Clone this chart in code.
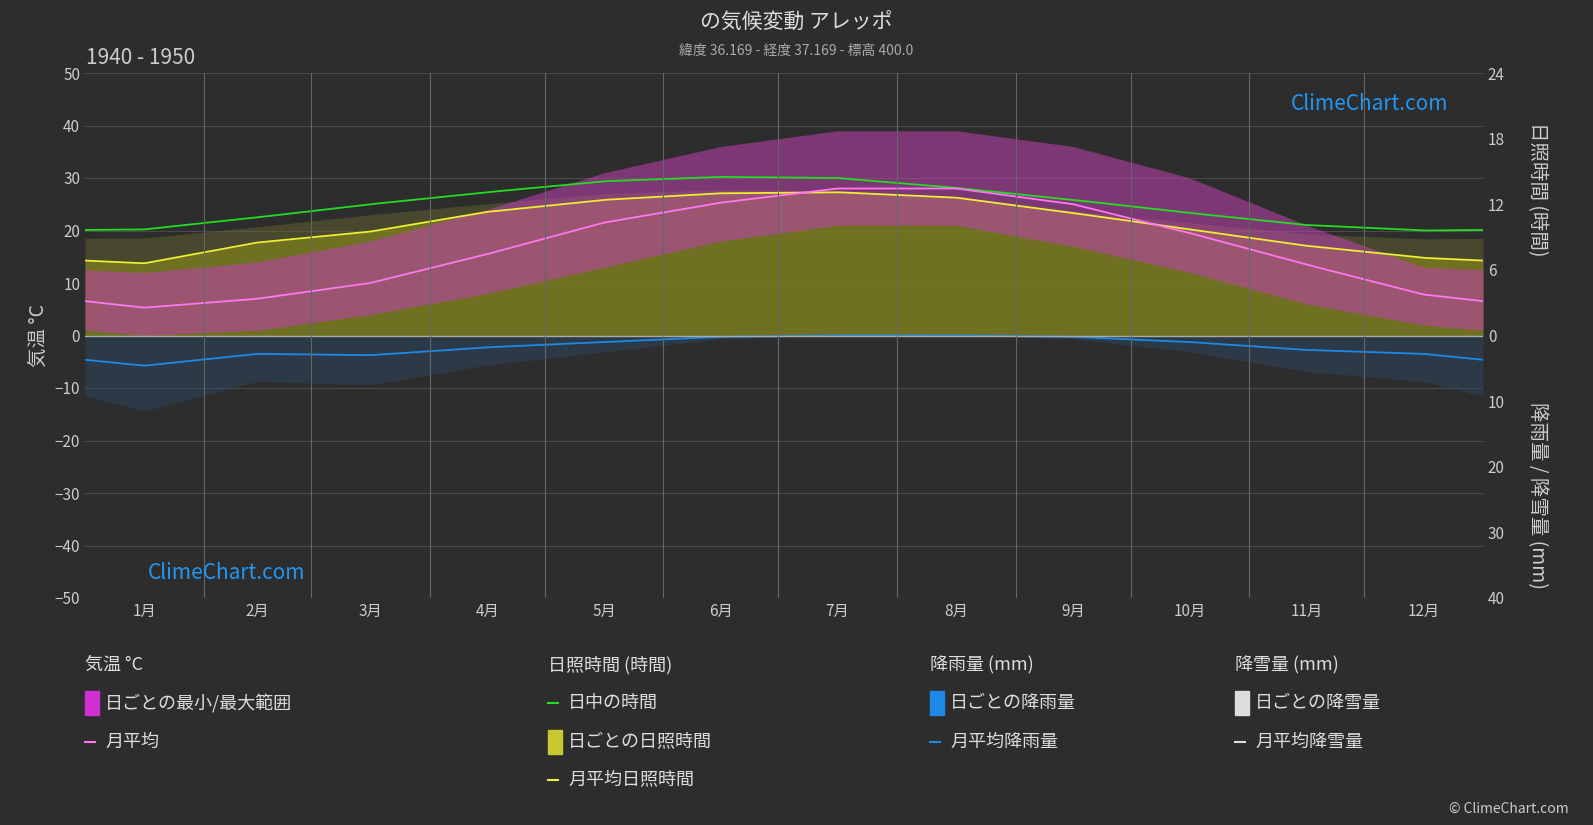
import numpy as np, pandas as pd, seaborn as sns, matplotlib
matplotlib.use("Agg")
import matplotlib.pyplot as plt
from matplotlib.patches import Rectangle

plt.rcParams["font.family"] = ["Noto Sans CJK JP", "DejaVu Sans"]

months = ["1月","2月","3月","4月","5月","6月","7月","8月","9月","10月","11月","12月"]
temp_mean = [5.3, 7.0, 10.0, 15.5, 21.5, 25.3, 28.0, 28.0, 25.0, 19.5, 13.5, 7.8]
temp_min = [0, 1, 4, 8, 13, 18, 21, 21, 17, 12, 6, 2]
temp_max = [12, 14, 18, 24, 31, 36, 39, 39, 36, 30, 21, 13]
daylight_h = [9.7, 10.8, 12.0, 13.1, 14.1, 14.5, 14.4, 13.5, 12.4, 11.2, 10.1, 9.6]
sunshine_h = [6.6, 8.5, 9.5, 11.3, 12.4, 13.0, 13.1, 12.6, 11.2, 9.7, 8.2, 7.1]
rain_mm = [4.6, 2.8, 3.0, 1.8, 1.0, 0.2, 0.0, 0.0, 0.2, 1.0, 2.2, 2.8]
snow_mm = [0.0]*12

BG = "#2d2d2d"
days_in = np.array([31,28,31,30,31,30,31,31,30,31,30,31])
edges = np.concatenate([[0], np.cumsum(days_in)])
mids = (edges[:-1] + edges[1:]) / 2

H2T = 50/24
MM2T = -50/40

df = pd.DataFrame({"day": mids, "temp": temp_mean,
                   "daylight": np.array(daylight_h)*H2T,
                   "sun": np.array(sunshine_h)*H2T,
                   "rain": np.array(rain_mm)*MM2T,
                   "tmin": temp_min, "tmax": temp_max})
xs = np.arange(0, 366)
def interp(col):
    x = np.concatenate([[mids[-1]-365], mids, [mids[0]+365]])
    y = np.concatenate([[df[col].iloc[-1]], df[col], [df[col].iloc[0]]])
    return np.interp(xs, x, y)

fig = plt.figure(figsize=(15.93, 8.25), dpi=100, facecolor=BG)
ax = fig.add_axes([85/1593, 1-598/825, 1398/1593, 525/825], facecolor=BG)

ax.fill_between(xs, 0, interp("sun"), color="#7d7d22", alpha=0.85, lw=0)
ax.fill_between(xs, interp("sun"), interp("daylight")*0.92, color="#6a6a30", alpha=0.45, lw=0)
ax.fill_between(xs, interp("tmin"), interp("tmax"), color="#c040b0", alpha=0.55, lw=0)
ax.fill_between(xs, interp("rain")*2.5, 0, color="#2a4a66", alpha=0.45, lw=0)

sns.lineplot(x=xs, y=interp("daylight"), ax=ax, color="#22dd22", lw=1.3)
sns.lineplot(x=xs, y=interp("sun"), ax=ax, color="#eeee33", lw=1.3)
sns.lineplot(x=xs, y=interp("temp"), ax=ax, color="#ff77ee", lw=1.3)
sns.lineplot(x=xs, y=interp("rain"), ax=ax, color="#1e88e5", lw=1.3)
ax.axhline(0, color="#aaaaaa", lw=1)

ax.set_xlim(0, 365); ax.set_ylim(-50, 50)
ax.set_yticks(range(-50, 51, 10))
ax.set_xticks(mids); ax.set_xticklabels(months)
for e in edges[1:-1]:
    ax.axvline(e, color="#666666", lw=0.8)
for y in range(-50, 51, 10):
    ax.axhline(y, color="#4a4a4a", lw=0.8, zorder=0)
for s in ax.spines.values(): s.set_visible(False)
ax.tick_params(colors="#cccccc", labelsize=11, length=0)
ax.set_ylabel("気温 °C", color="#cccccc", fontsize=14)

ax2 = ax.twinx()
ax2.set_ylim(-50, 50)
ax2.set_yticks([0, 12.5, 25, 37.5, 50, -12.5, -25, -37.5, -50])
ax2.set_yticklabels(["0","6","12","18","24","10","20","30","40"])
ax2.tick_params(colors="#cccccc", labelsize=11, length=0)
for s in ax2.spines.values(): s.set_visible(False)
fig.text(0.965, 0.77, "日照時間 (時間)", rotation=-90, color="#cccccc", fontsize=14, ha="center", va="center")
fig.text(0.965, 0.4, "降雨量 / 降雪量 (mm)", rotation=-90, color="#cccccc", fontsize=14, ha="center", va="center")

fig.text(0.5, 0.972, "の気候変動 アレッポ", color="#dddddd", fontsize=15, ha="center", va="center")
fig.text(0.5, 0.938, "緯度 36.169 - 経度 37.169 - 標高 400.0", color="#aaaaaa", fontsize=10, ha="center", va="center")
fig.text(0.054, 0.93, "1940 - 1950", color="#cccccc", fontsize=15, ha="left", va="center")
fig.text(0.81, 0.874, "ClimeChart.com", color="#2196f3", fontsize=15, ha="left", va="center")
fig.text(0.093, 0.305, "ClimeChart.com", color="#2196f3", fontsize=15, ha="left", va="center")
fig.text(0.985, 0.02, "© ClimeChart.com", color="#cccccc", fontsize=10, ha="right", va="center")

def row(x, y, text, kind, color):
    X, Y = x/1593, 1-y/825
    if kind == "line":
        fig.add_artist(plt.Line2D([X, X+10/1593], [Y, Y], color=color, lw=1.5))
    elif kind == "box":
        fig.add_artist(Rectangle((X, Y-12/825), 14/1593, 24/825, color=color))
    fig.text(X+(20/1593 if kind else 0), Y, text, color="#dddddd", fontsize=13, va="center")

row(85, 665, "気温 °C", None, None)
row(85, 703, "日ごとの最小/最大範囲", "box", "#d030d0")
row(85, 742, "月平均", "line", "#ff77ee")
row(548, 665, "日照時間 (時間)", None, None)
row(548, 703, "日中の時間", "line", "#22dd22")
row(548, 742, "日ごとの日照時間", "box", "#c8c830")
row(548, 780, "月平均日照時間", "line", "#eeee33")
row(930, 665, "降雨量 (mm)", None, None)
row(930, 703, "日ごとの降雨量", "box", "#1e88e5")
row(930, 742, "月平均降雨量", "line", "#1e88e5")
row(1235, 665, "降雪量 (mm)", None, None)
row(1235, 703, "日ごとの降雪量", "box", "#dddddd")
row(1235, 742, "月平均降雪量", "line", "#dddddd")

fig.savefig("out.png", dpi=100, facecolor=BG)
